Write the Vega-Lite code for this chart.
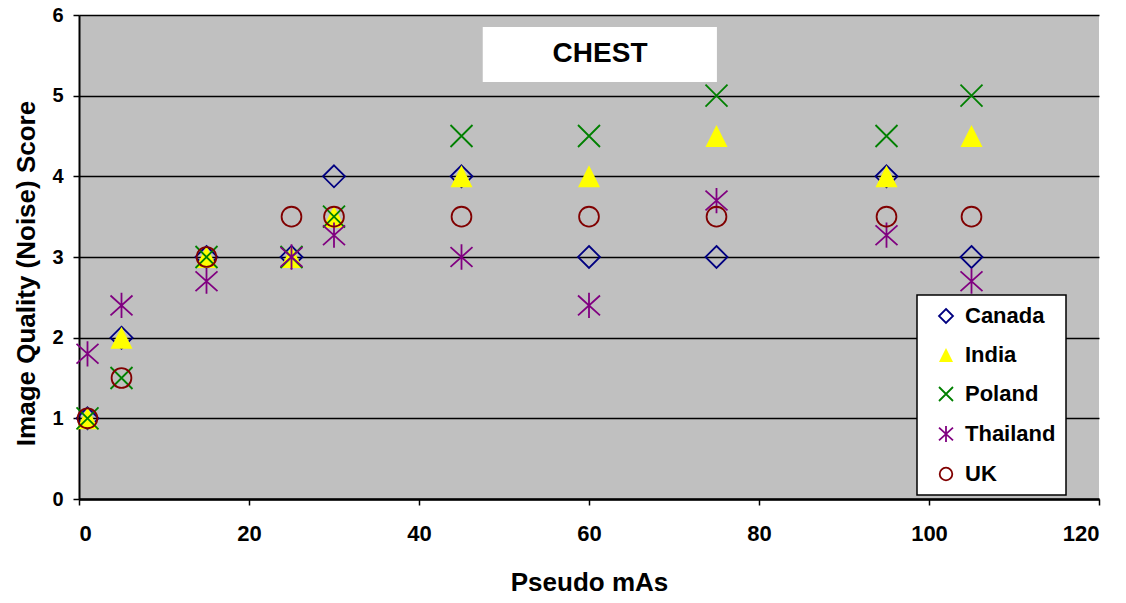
{
  "$schema": "https://vega.github.io/schema/vega-lite/v6.json",
  "autosize": "none",
  "width": 1020,
  "height": 484,
  "padding": {"left": 79, "top": 15, "right": 27, "bottom": 104},
  "background": "white",
  "config": {
    "font": "Liberation Sans",
    "view": {"fill": "#C0C0C0", "stroke": null},
    "axis": {"labelFontWeight": "bold", "titleFontWeight": "bold", "labelColor": "black", "titleColor": "black", "domainColor": "black", "tickColor": "black", "domainWidth": 2, "tickWidth": 1.5, "tickSize": 6},
    "legend": {"strokeWidth": 1.5}
  },
  "data": {"values": [
    {"mAs": 1, "score": 1, "country": "Canada"},
    {"mAs": 5, "score": 2, "country": "Canada"},
    {"mAs": 15, "score": 3, "country": "Canada"},
    {"mAs": 25, "score": 3, "country": "Canada"},
    {"mAs": 30, "score": 4, "country": "Canada"},
    {"mAs": 45, "score": 4, "country": "Canada"},
    {"mAs": 60, "score": 3, "country": "Canada"},
    {"mAs": 75, "score": 3, "country": "Canada"},
    {"mAs": 95, "score": 4, "country": "Canada"},
    {"mAs": 105, "score": 3, "country": "Canada"},
    {"mAs": 1, "score": 1, "country": "India"},
    {"mAs": 5, "score": 2, "country": "India"},
    {"mAs": 15, "score": 3, "country": "India"},
    {"mAs": 25, "score": 3, "country": "India"},
    {"mAs": 30, "score": 3.5, "country": "India"},
    {"mAs": 45, "score": 4, "country": "India"},
    {"mAs": 60, "score": 4, "country": "India"},
    {"mAs": 75, "score": 4.5, "country": "India"},
    {"mAs": 95, "score": 4, "country": "India"},
    {"mAs": 105, "score": 4.5, "country": "India"},
    {"mAs": 1, "score": 1, "country": "Poland"},
    {"mAs": 5, "score": 1.5, "country": "Poland"},
    {"mAs": 15, "score": 3, "country": "Poland"},
    {"mAs": 25, "score": 3, "country": "Poland"},
    {"mAs": 30, "score": 3.5, "country": "Poland"},
    {"mAs": 45, "score": 4.5, "country": "Poland"},
    {"mAs": 60, "score": 4.5, "country": "Poland"},
    {"mAs": 75, "score": 5, "country": "Poland"},
    {"mAs": 95, "score": 4.5, "country": "Poland"},
    {"mAs": 105, "score": 5, "country": "Poland"},
    {"mAs": 1, "score": 1.8, "country": "Thailand"},
    {"mAs": 5, "score": 2.4, "country": "Thailand"},
    {"mAs": 15, "score": 2.7, "country": "Thailand"},
    {"mAs": 25, "score": 3, "country": "Thailand"},
    {"mAs": 30, "score": 3.27, "country": "Thailand"},
    {"mAs": 45, "score": 3, "country": "Thailand"},
    {"mAs": 60, "score": 2.4, "country": "Thailand"},
    {"mAs": 75, "score": 3.7, "country": "Thailand"},
    {"mAs": 95, "score": 3.27, "country": "Thailand"},
    {"mAs": 105, "score": 2.7, "country": "Thailand"},
    {"mAs": 1, "score": 1, "country": "UK"},
    {"mAs": 5, "score": 1.5, "country": "UK"},
    {"mAs": 15, "score": 3, "country": "UK"},
    {"mAs": 25, "score": 3.5, "country": "UK"},
    {"mAs": 30, "score": 3.5, "country": "UK"},
    {"mAs": 45, "score": 3.5, "country": "UK"},
    {"mAs": 60, "score": 3.5, "country": "UK"},
    {"mAs": 75, "score": 3.5, "country": "UK"},
    {"mAs": 95, "score": 3.5, "country": "UK"},
    {"mAs": 105, "score": 3.5, "country": "UK"}
  ]},
  "layer": [
    {
      "data": {"values": [{"label": "CHEST"}]},
      "mark": {"type": "rect", "fill": "white"},
      "encoding": {
        "x": {"datum": 47.5, "type": "quantitative"},
        "x2": {"datum": 75.05},
        "y": {"datum": 5.85, "type": "quantitative"},
        "y2": {"datum": 5.17}
      }
    },
    {
      "data": {"values": [{"label": "CHEST"}]},
      "mark": {"type": "text", "fontSize": 28, "fontWeight": "bold", "fill": "black", "baseline": "middle", "align": "center"},
      "encoding": {
        "text": {"field": "label", "type": "nominal"},
        "x": {"datum": 61.3, "type": "quantitative"},
        "y": {"datum": 5.52, "type": "quantitative"}
      }
    },
    {
      "mark": {"type": "point", "size": 484, "strokeWidth": 1.8, "opacity": 1},
      "encoding": {
        "x": {
          "field": "mAs", "type": "quantitative",
          "scale": {"domain": [0, 120], "nice": false, "zero": true},
          "axis": {"values": [0, 20, 40, 60, 80, 100, 120], "format": "d", "grid": false, "title": "Pseudo mAs", "titleFontSize": 26, "labelFontSize": 22, "labelPadding": 18, "titleBaseline": "middle", "titleY": 83, "domainWidth": 2.5}
        },
        "y": {
          "field": "score", "type": "quantitative",
          "scale": {"domain": [0, 6], "nice": false},
          "axis": {"values": [0, 1, 2, 3, 4, 5, 6], "format": "d", "grid": true, "gridColor": "black", "gridWidth": 1.6, "gridOpacity": 1, "title": "Image Quality (Noise) Score", "titleFontSize": 26, "labelFontSize": 20, "labelPadding": 10, "titleBaseline": "middle", "titleX": -53, "titleY": 258}
        },
        "shape": {
          "field": "country", "type": "nominal",
          "scale": {"domain": ["Canada", "India", "Poland", "Thailand", "UK"], "range": ["M0,-1L1,0L0,1L-1,0Z", "M0,-1L1,1L-1,1Z", "M-1,-1L1,1M-1,1L1,-1", "M-1,-0.9L1,0.9M-1,0.9L1,-0.9M0,-1.15L0,1.15", "M0.9,0A0.9,0.9,0,1,1,-0.9,0A0.9,0.9,0,1,1,0.9,0Z"]},
          "legend": {"title": null, "orient": "none", "legendX": 838, "legendY": 280, "fillColor": "white", "strokeColor": "black", "padding": 10, "labelFontSize": 22, "labelFontWeight": "bold", "labelColor": "black", "symbolSize": 196, "symbolStrokeWidth": 1.8, "symbolOffset": 8, "labelOffset": 8, "rowPadding": 17}
        },
        "fill": {
          "field": "country", "type": "nominal",
          "scale": {"domain": ["Canada", "India", "Poland", "Thailand", "UK"], "range": ["transparent", "#FFFF00", "transparent", "transparent", "transparent"]},
          "legend": {"title": null, "orient": "none", "legendX": 838, "legendY": 280}
        },
        "stroke": {
          "field": "country", "type": "nominal",
          "scale": {"domain": ["Canada", "India", "Poland", "Thailand", "UK"], "range": ["#000080", "transparent", "#008000", "#800080", "#800000"]},
          "legend": {"title": null, "orient": "none", "legendX": 838, "legendY": 280}
        }
      }
    }
  ]
}
